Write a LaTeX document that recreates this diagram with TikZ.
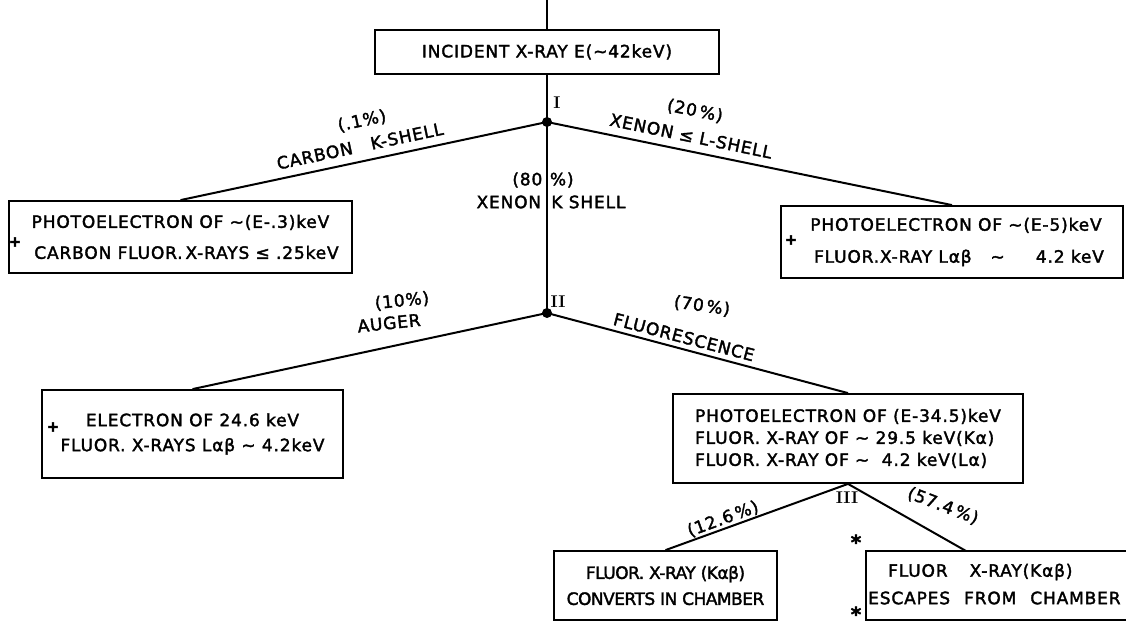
\documentclass[tikz,border=0pt]{standalone}
\usepackage{fontspec}
\newfontfamily\lett{DejaVu Sans}[LetterSpace=5,FakeBold=2]
\begin{document}
\begin{tikzpicture}[x=1pt,y=-1pt,
  txt/.style={font=\lett\fontsize{17}{#1}\selectfont, inner sep=0pt},
  txt/.default=19,
  boxnode/.style={draw, line width=1.8pt, inner sep=0pt, align=center},
  link/.style={line width=2pt},
  dot/.style={circle, fill, inner sep=0pt, minimum size=10pt},
  rn/.style={font=\bfseries\fontsize{17}{20}\selectfont, inner sep=0pt},
  sym/.style={font=\lett\bfseries\fontsize{15}{16}\selectfont, inner sep=0pt},
  star/.style={font=\lett\bfseries\fontsize{20}{20}\selectfont, inner sep=0pt},
]
\useasboundingbox (0,0) rectangle (1126,628);
\clip (0,0) rectangle (1126,628);

% boxes
\node[boxnode, txt, minimum width=344pt, minimum height=44pt] (incident) at (547,52) {INCIDENT X-RAY E(∼42keV)};
\node[dot] (n1) at (547,122) {};
\node[dot] (n2) at (547,313) {};
\node[boxnode, txt=31, minimum width=343pt, minimum height=72pt] (carbon) at (180.5,237) {PHOTOELECTRON OF ∼(E-.3)keV\\\hspace{12pt}CARBON FLUOR.\,X-RAYS\ ≤ .25keV};
\node[boxnode, txt=32, minimum width=342pt, minimum height=72pt] (xel) at (952,242) {\hspace{8pt}PHOTOELECTRON OF ∼(E-5)keV\\\hspace{14pt}FLUOR.X-RAY Lαβ\ \ \ ∼\ \ \ \ \ 4.2 keV};
\node[boxnode, txt=25, minimum width=301pt, minimum height=88pt] (auger) at (192.5,434) {ELECTRON OF 24.6 keV\\FLUOR. X-RAYS Lαβ ∼ 4.2keV};
\node[boxnode, txt=22, minimum width=350pt, minimum height=89pt, align=left] (fluor) at (848,438.5) {PHOTOELECTRON OF (E-34.5)keV\\FLUOR. X-RAY OF ∼ 29.5 keV(Kα)\\FLUOR. X-RAY OF ∼\ \ 4.2 keV(Lα)};
\node[boxnode, txt=26, minimum width=223pt, minimum height=69pt, font=\lett\fontsize{17}{26}\selectfont\addfontfeature{LetterSpace=-3}] (conv) at (665.5,585.5) {FLUOR. X-RAY (Kαβ)\\CONVERTS IN CHAMBER};
\node[boxnode, minimum width=300pt, minimum height=69pt] (esc) at (1016,585.5) {};
\node[txt, anchor=west] (esc1) at (888,572) {FLUOR\hspace{22pt}X-RAY(Kαβ)};
\node[txt, anchor=west] (esc2) at (868,598) {ESCAPES\hspace{14pt}FROM\hspace{14pt}CHAMBER};

% connectors
\coordinate (topend) at (547,0);
\coordinate (escin) at (966,551);
\draw[link] (topend) -- (incident.north);
\draw[link] (incident.south) -- (n1.center) -- (n2.center);
\draw[link] (n1.center) -- (carbon.north);
\draw[link] (n1.center) -- (xel.north);
\draw[link] (n2.center) -- (auger.north);
\draw[link] (n2.center) -- (fluor.north);
\draw[link] (fluor.south) -- (conv.north);
\draw[link] (fluor.south) -- (escin);

% branch labels
\node[rn] (r1) at (557,103) {I};
\node[rn] (r2) at (558,302) {II};
\node[rn] (r3) at (847,498) {III};
\node[txt, rotate=12] (pcarb) at (362,121) {(.1\%)};
\node[txt, rotate=12] (lcarb) at (360,146) {CARBON\hspace{1.1em}K-SHELL};
\node[txt, rotate=-11.6] (pxen) at (695,111) {(20\,\%)};
\node[txt, rotate=-11.6] (lxen) at (691,136) {XENON ≤ L-SHELL};
\node[txt] (p80) at (543,180) {(80\hspace{0.45em}\%)};
\node[txt] (lxk) at (551,202) {XENON\hspace{0.6em}K SHELL};
\node[txt, rotate=6] (p10) at (402,301) {(10\%)};
\node[txt, rotate=6] (laug) at (389,323) {AUGER};
\node[txt, rotate=-8] (p70) at (702,306) {(70\,\%)};
\node[txt, rotate=-14.7] (lfl) at (684,337) {FLUORESCENCE};
\node[txt, rotate=20] (p126) at (723,519) {(12.6\,\%)};
\node[txt, rotate=-21] (p574) at (943,506) {(57.4\,\%)};

% marks
\node[sym] (pl1) at (15,242) {+};
\node[sym] (pl2) at (791,240) {+};
\node[sym] (pl3) at (53,427) {+};
\node[star] (ast1) at (856,542) {*};
\node[star] (ast2) at (856,614) {*};
\end{tikzpicture}
\end{document}
